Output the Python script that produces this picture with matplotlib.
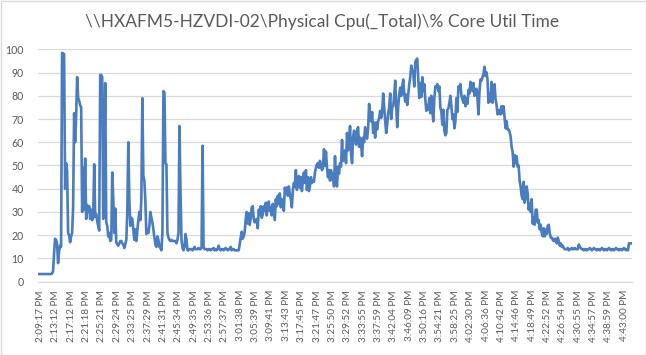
import numpy as np
import matplotlib
matplotlib.use("Agg")
import matplotlib.pyplot as plt
from matplotlib.patches import Rectangle

title = r"\\HXAFM5-HZVDI-02\Physical Cpu(_Total)\% Core Util Time"

time_labels = [
    "2:09:17 PM", "2:13:12 PM", "2:17:12 PM", "2:21:18 PM", "2:25:21 PM",
    "2:29:24 PM", "2:33:25 PM", "2:37:29 PM", "2:41:31 PM", "2:45:34 PM",
    "2:49:35 PM", "2:53:36 PM", "2:57:37 PM", "3:01:38 PM", "3:05:39 PM",
    "3:09:41 PM", "3:13:43 PM", "3:17:45 PM", "3:21:47 PM", "3:25:50 PM",
    "3:29:52 PM", "3:33:55 PM", "3:37:59 PM", "3:42:04 PM", "3:46:09 PM",
    "3:50:16 PM", "3:54:21 PM", "3:58:25 PM", "4:02:30 PM", "4:06:36 PM",
    "4:10:42 PM", "4:14:46 PM", "4:18:49 PM", "4:22:52 PM", "4:26:54 PM",
    "4:30:55 PM", "4:34:57 PM", "4:38:59 PM", "4:43:00 PM",
]

cpu_util = [
    # idle start
    3.3, 3.3, 3.3, 3.3, 3.3, 3.3, 3.3, 3.3, 3.3, 3.3, 3.3, 3.3, 3.3, 3.3,
    3.5, 4.5, 12, 18.5, 18, 16.5, 8, 13, 15.5, 15, 98.5, 98, 98,
    40, 51, 48, 21, 20, 17, 19.5, 21, 32, 72.5, 60, 71, 88, 79, 78, 76, 75,
    30, 49, 31, 53, 27, 33, 30, 32.5, 27, 31, 26.5, 27.5, 50.5, 28, 29, 26, 24, 22,
    89, 89, 88, 27, 50, 85.5, 25.5, 24, 19.5, 21, 17.5, 18, 47, 35.5, 21, 31.5, 17,
    16, 15.5, 16.5, 17.5, 17.5, 16.5, 16, 14.5, 16, 18, 30, 60, 35.5, 24, 27.5, 27, 22.5, 18,
    22.5, 17.5, 22, 26.5, 30, 26.5, 35.5, 79, 45.5, 43.5, 34.5, 20.5, 22.5, 21, 24, 30,
    27.5, 25.5, 22.5, 19, 16, 15, 19.5, 18, 15, 14.5, 13.5, 21, 82, 81.5, 51, 50.5,
    21, 19, 18, 17.5, 18, 17.5, 17.5, 17.5, 17.5, 16.5, 18, 21, 67, 39, 18,
    14.5, 13.5, 15, 20.5, 18, 13.5, 13.5, 14, 14, 14, 13.5, 14, 15, 14, 14, 14, 14.5, 14, 14, 14.5, 58.5, 15, 14, 14,
    14, 13.5, 14, 14, 13.5, 14, 14, 14.5, 13.5, 14, 13.5, 14, 15.5, 14, 13.5, 14, 14, 13.5, 14, 14.5,
    14, 13.5, 14, 14, 15, 13.5, 14, 14, 13.5,
    13.5, 13.5, 13.5, 13.5,
    # ramp up
    16, 19, 21.5, 18.5, 19.5, 21.5, 27, 30, 25, 29.5, 24.5, 27.5, 32, 32.5, 27, 25.5,
    26.5, 27, 23, 31, 29, 32.5, 27.5, 29, 32.5, 30.5, 34, 28.5, 32.5, 34.5, 30.5, 32,
    28.5, 33.5, 30, 26.5, 35.5, 32.5, 37, 33.5, 38, 32, 35.5, 33.5, 30.5, 40.5, 38.5, 40.5,
    37, 41, 37.5, 35.5, 32, 39.5, 42.5, 41, 48, 39.5, 43.5, 45.5, 40.5, 45, 39, 43.5,
    47, 42.5, 48, 39.5, 45, 39, 41, 45, 42.5, 43.5, 43, 47, 49, 50.5, 51, 49,
    52, 50, 48, 49, 57, 50, 56, 49, 45, 48, 43.5, 48, 44, 46.5, 41, 54,
    43.5, 41, 49.5, 46.5, 51, 49.5, 61, 52, 54, 56.5, 51, 64, 56.5, 61, 67, 55,
    51, 62, 65, 61.5, 59, 65, 66.5, 58, 62, 59, 54, 62, 60, 66.5, 64, 61.5,
    66, 76.5, 70.5, 69, 73, 64, 68.5, 62, 68.5, 65.5, 69, 70.5, 73.5, 70.5, 73, 81,
    75, 69.5, 64, 67.5, 72.5, 75, 81, 70, 75, 75.5, 80, 86.5, 75.5, 66.5, 75.5, 80.5,
    83.5, 80, 84, 87, 81, 77.5, 80.5, 76, 80.5, 85, 88, 93, 91, 90, 84, 94.5,
    95.5, 96, 87, 79, 85.5, 79.5, 88, 82, 85, 78.5, 73.5, 76, 74, 79, 72.5, 80,
    73.5, 69, 79, 84,
    # plateau
    84, 85, 82, 84, 75, 73, 67.5, 74, 65, 63, 64, 74, 74.5, 77, 80, 75.5,
    70, 72, 66, 69, 79, 73, 84, 83, 85, 80, 78.5, 77, 80, 75.5, 79, 76.5,
    82.5, 81, 86, 85, 82, 85.5, 80, 82, 83, 79, 72, 82, 87, 86.5, 88, 89.5,
    92.5, 88.5, 90, 87, 77, 81, 77.5, 86, 77, 83, 85, 78.5, 76, 72, 72.5, 74,
    # ramp down
    72, 75.5, 72.5, 75.5, 71, 66, 69, 65.5, 65.5, 64.5, 62.5, 58, 56, 49.5, 54.5, 51,
    54, 49.5, 50, 43.5, 41, 37, 35.5, 43, 34, 36.5, 41, 38, 31, 33.5, 30, 35.5,
    25, 27.5, 24.5, 31,
    31, 25.5, 26.5, 22.5, 24.5, 21, 19.5, 23, 19.5, 22.5, 20.5, 24, 24.5, 21, 19, 19,
    18, 17.5, 18.5, 18, 16.5, 19, 17.5, 15.5, 16.5, 15, 15.5, 14.5, 14, 14,
    # idle tail
    14, 14.5, 13.5, 14, 14, 14.5, 14, 14, 14.5, 14, 14, 14, 16, 15, 14.5, 14,
    14, 13.5, 14, 14, 13.5, 14, 14, 14.5, 14, 13.5, 14, 14.5, 14, 14, 13.5, 14,
    14, 13.5, 14, 14.5, 14, 13.5, 14, 14, 13.5, 14, 14.5, 14, 13.5, 14, 14, 13.5,
    14, 14.5, 14, 14, 13.5, 14, 14, 13.5, 14, 14.5, 14, 13.5, 14, 13.5, 16.5, 16.5, 16.5,
]

W, H = 646, 355
fig = plt.figure(figsize=(W / 100, H / 100), dpi=100)
fig.patch.set_facecolor("white")

font = ["Lato", "DejaVu Sans"]
gray_txt = "#595959"
grid_c = "#d9d9d9"
line_c = "#4a7cc0"

# plot area in pixel coordinates
left_px, right_px = 37.5, 631.5
top_px, bottom_px = 49.3, 281.7
ax = fig.add_axes([left_px / W, 1 - bottom_px / H,
                   (right_px - left_px) / W, (bottom_px - top_px) / H])

n = len(cpu_util)
x = np.arange(n)
ax.plot(x, cpu_util, color=line_c, linewidth=1.9, solid_joinstyle="round")

ax.set_xlim(-0.5, n - 0.5)
ax.set_ylim(0, 100)
ax.set_yticks(np.arange(0, 101, 10))
tick_pos = np.linspace(2.5, 2.5 + 15.31 * (len(time_labels) - 1), len(time_labels))
ax.set_xticks(tick_pos)
ax.set_xticklabels(time_labels, rotation=90, fontsize=7.2, color=gray_txt,
                   family=font)
for lab in ax.get_yticklabels():
    lab.set_family(font)
ax.tick_params(axis="y", length=0, pad=10, labelsize=7.6, labelcolor=gray_txt)
ax.tick_params(axis="x", length=0, pad=6)

ax.grid(axis="y", color=grid_c, linewidth=0.9)
ax.set_axisbelow(True)
for s in ["top", "right", "left"]:
    ax.spines[s].set_visible(False)
ax.spines["bottom"].set_color(grid_c)
ax.spines["bottom"].set_linewidth(0.9)

fig.text(322 / W, 1 - 22 / H, title, ha="center", va="center",
         fontsize=12.5, color=gray_txt, family=font)

fig.patches.append(Rectangle((0.5 / W, 0.5 / H), (W - 1) / W, (H - 1) / H,
                             transform=fig.transFigure, fill=False,
                             edgecolor="#d9d9d9", linewidth=1.0))

fig.savefig("out.png", dpi=100)
